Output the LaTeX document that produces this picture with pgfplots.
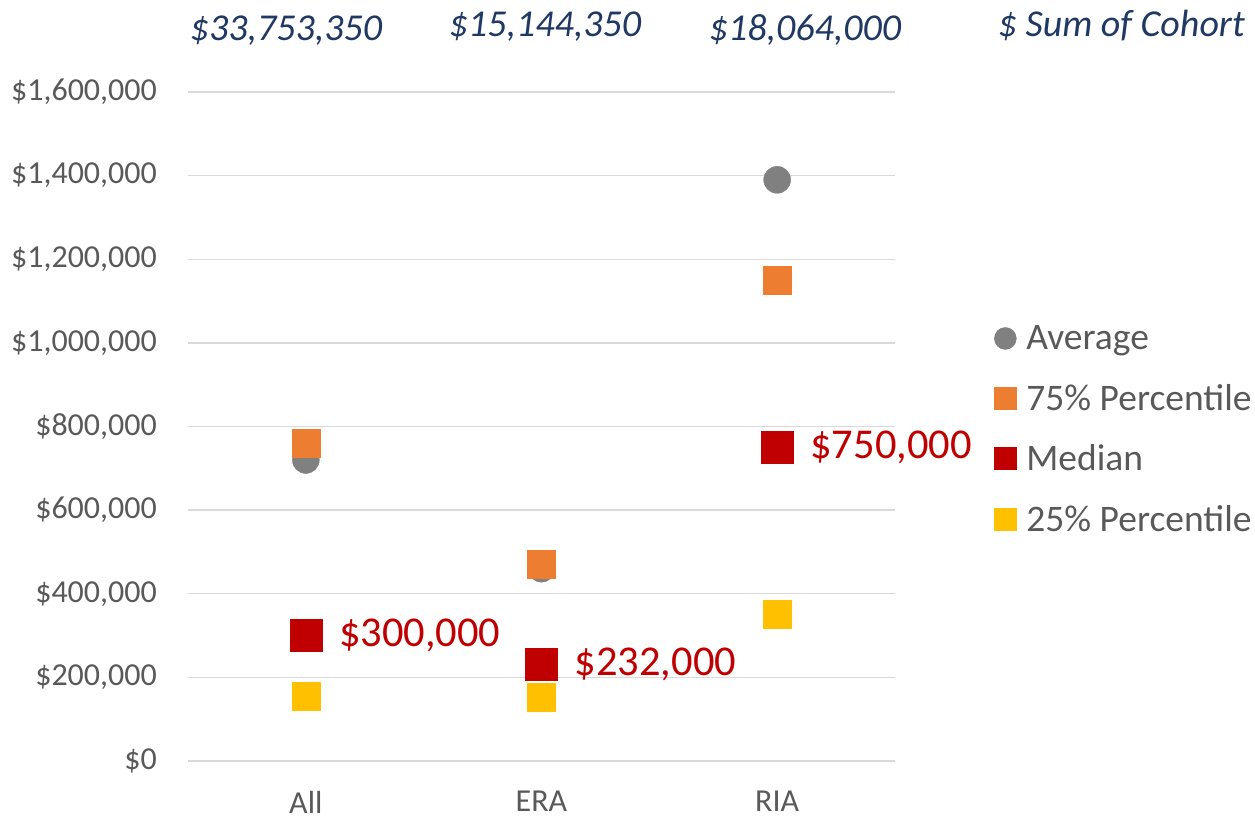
\documentclass[border=0pt]{standalone}
\usepackage{pgfplots}
\pgfplotsset{compat=1.18}
\usepackage{fontspec}
\setmainfont{Carlito}
\definecolor{cavg}{HTML}{808080}
\definecolor{cq3}{HTML}{ED7D31}
\definecolor{cmed}{HTML}{C00000}
\definecolor{cq1}{HTML}{FFC000}
\definecolor{cgrid}{HTML}{D9D9D9}
\definecolor{ctext}{HTML}{595959}
\definecolor{cblue}{HTML}{203864}
\begin{document}
\begin{tikzpicture}[x=1pt,y=1pt]
\useasboundingbox (0,0) rectangle (1255,824);
\begin{axis}[
  at={(188pt,63pt)}, anchor=south west,
  scale only axis, width=707pt, height=669pt,
  xmin=-0.5, xmax=2.5, ymin=0, ymax=1600000,
  scaled y ticks=false,
  xtick={0,1,2}, xticklabels={All,ERA,RIA},
  ytick={0,200000,400000,600000,800000,1000000,1200000,1400000,1600000},
  yticklabels={\$0,{\$200,000},{\$400,000},{\$600,000},{\$800,000},{\$1,000,000},{\$1,200,000},{\$1,400,000},{\$1,600,000}},
  ymajorgrids, grid style={cgrid, line width=1.3pt},
  axis line style={draw=none},
  major tick length=0pt,
  tick label style={font=\fontsize{32}{38}\selectfont, text=ctext, inner sep=0pt},
  yticklabel style={xshift=-31pt},
  xticklabel style={yshift=-30pt},
  clip=false,
  /pgf/number format/assume math mode=true,
  legend style={at={(1.136,0.657)}, anchor=north west, draw=none, fill=none,
    font=\fontsize{37.5}{44}\selectfont, text=ctext, row sep=29pt,
    /tikz/every odd column/.append style={column sep=0pt},
    nodes={inner xsep=10pt}},
  legend cell align=left,
  legend image post style={mark size=11pt},
]
\addplot[only marks, mark=*, mark size=13.5pt, color=cavg] coordinates {(0,720000) (1,460000) (2,1390000)};
\addlegendentry{Average}
\addplot[only marks, mark=square*, mark size=14pt, color=cq3] coordinates {(0,760000) (1,470000) (2,1150000)};
\addlegendentry{75\% Percentile}
\addplot[only marks, mark=square*, mark size=16pt, color=cmed, point meta=y,
  nodes near coords={\$\pgfmathprintnumber[fixed,precision=0,1000 sep={,}]{\pgfplotspointmeta}},
  nodes near coords style={anchor=west, xshift=33pt, inner sep=0pt, font=\fontsize{42.5}{50}\selectfont, text=cmed}]
  coordinates {(0,300000) (1,232000) (2,750000)};
\addlegendentry{Median}
\addplot[only marks, mark=square*, mark size=14pt, color=cq1] coordinates {(0,155000) (1,152000) (2,350000)};
\addlegendentry{25\% Percentile}
\end{axis}
\begin{scope}[every node/.style={font=\fontsize{38}{45}\selectfont\itshape, text=cblue, inner sep=0pt, anchor=base}]
\node at (286,783) {\$33,753,350};
\node at (545,787) {\$15,144,350};
\node at (805,783) {\$18,064,000};
\node[anchor=base east] at (1245,787) {\$ Sum of Cohort};
\end{scope}
\end{tikzpicture}
\end{document}
